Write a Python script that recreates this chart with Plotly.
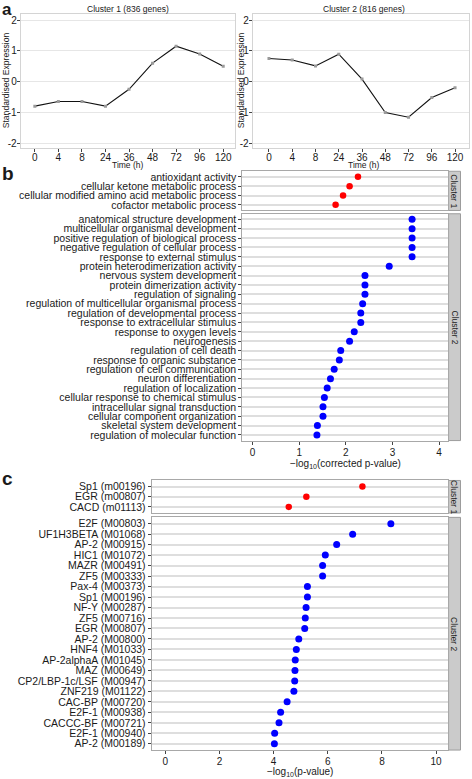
import plotly.graph_objects as go

# ---------------- data ----------------
time_labels = ["0", "4", "8", "24", "36", "48", "72", "96", "120"]
cluster1_expr = [-0.80, -0.65, -0.65, -0.80, -0.25, 0.60, 1.15, 0.90, 0.50]
cluster2_expr = [0.75, 0.70, 0.51, 0.89, 0.08, -1.01, -1.16, -0.52, -0.20]

go_c1_terms = ["antioxidant activity", "cellular ketone metabolic process",
               "cellular modified amino acid metabolic process", "cofactor metabolic process"]
go_c1_vals = [2.26, 2.08, 1.94, 1.78]

go_c2_terms = ["anatomical structure development", "multicellular organismal development",
               "positive regulation of biological process", "negative regulation of cellular process",
               "response to external stimulus", "protein heterodimerization activity",
               "nervous system development", "protein dimerization activity",
               "regulation of signaling", "regulation of multicellular organismal process",
               "regulation of developmental process", "response to extracellular stimulus",
               "response to oxygen levels", "neurogenesis", "regulation of cell death",
               "response to organic substance", "regulation of cell communication",
               "neuron differentiation", "regulation of localization",
               "cellular response to chemical stimulus", "intracellular signal transduction",
               "cellular component organization", "skeletal system development",
               "regulation of molecular function"]
go_c2_vals = [3.42, 3.42, 3.42, 3.42, 3.42, 2.93, 2.41, 2.41, 2.41, 2.36, 2.32, 2.32,
              2.18, 2.08, 1.89, 1.86, 1.75, 1.67, 1.60, 1.54, 1.51, 1.51, 1.39, 1.38]

tf_c1_names = ["Sp1 (m00196)", "EGR (m00807)", "CACD (m01113)"]
tf_c1_vals = [7.28, 5.21, 4.56]

tf_c2_names = ["E2F (M00803)", "UF1H3BETA (M01068)", "AP-2 (M00915)", "HIC1 (M01072)",
               "MAZR (M00491)", "ZF5 (M00333)", "Pax-4 (M00373)", "Sp1 (M00196)",
               "NF-Y (M00287)", "ZF5 (M00716)", "EGR (M00807)", "AP-2 (M00800)",
               "HNF4 (M01033)", "AP-2alphaA (M01045)", "MAZ (M00649)",
               "CP2/LBP-1c/LSF (M00947)", "ZNF219 (M01122)", "CAC-BP (M00720)",
               "E2F-1 (M00938)", "CACCC-BF (M00721)", "E2F-1 (M00940)", "AP-2 (M00189)"]
tf_c2_vals = [8.33, 6.92, 6.33, 5.91, 5.81, 5.81, 5.25, 5.25, 5.20, 5.17, 5.15, 4.93,
              4.84, 4.80, 4.79, 4.78, 4.75, 4.50, 4.26, 4.20, 4.04, 4.03]

# ---------------- layout helpers ----------------
W, H = 472, 779
def fx(p): return p / W
def fy(p): return 1 - p / H

FONT = "Liberation Sans, Arial, sans-serif"
TXT = "#1a1a1a"

fig = go.Figure()

# panel a
fig.add_trace(go.Scatter(x=time_labels, y=cluster1_expr, mode="lines+markers",
                         line=dict(color="#111111", width=1.1),
                         marker=dict(symbol="square", size=3, color="#9a9a9a"),
                         xaxis="x", yaxis="y", showlegend=False))
fig.add_trace(go.Scatter(x=time_labels, y=cluster2_expr, mode="lines+markers",
                         line=dict(color="#111111", width=1.1),
                         marker=dict(symbol="square", size=3, color="#9a9a9a"),
                         xaxis="x2", yaxis="y2", showlegend=False))

# panel b
fig.add_trace(go.Scatter(x=go_c1_vals, y=go_c1_terms, mode="markers",
                         marker=dict(color="#ff0000", size=6.5),
                         xaxis="x3", yaxis="y3", showlegend=False))
fig.add_trace(go.Scatter(x=go_c2_vals, y=go_c2_terms, mode="markers",
                         marker=dict(color="#0000ff", size=7),
                         xaxis="x4", yaxis="y4", showlegend=False))
# panel c
fig.add_trace(go.Scatter(x=tf_c1_vals, y=tf_c1_names, mode="markers",
                         marker=dict(color="#ff0000", size=6.5),
                         xaxis="x5", yaxis="y5", showlegend=False))
fig.add_trace(go.Scatter(x=tf_c2_vals, y=tf_c2_names, mode="markers",
                         marker=dict(color="#0000ff", size=7),
                         xaxis="x6", yaxis="y6", showlegend=False))

tickf = dict(family=FONT, size=10, color=TXT)
labf = dict(family=FONT, size=10.5, color=TXT)

def a_x(dom, rng, anchor):
    return dict(domain=dom, anchor=anchor, type="category", categoryorder="array",
                categoryarray=time_labels, tickmode="array", tickvals=time_labels,
                ticktext=time_labels, range=rng, showgrid=False, zeroline=False,
                showline=True, mirror=True, linecolor="#d4d4d4", linewidth=1,
                ticks="outside", ticklen=3, tickcolor="#444", tickfont=tickf,
                ticklabelstandoff=-3)

def a_y(dom, anchor):
    return dict(domain=dom, anchor=anchor, range=[-2.15, 2.2], tickmode="array",
                tickvals=[-2, -1, 0, 1, 2], ticktext=["-2", "-1", "0", "1", "2"],
                showgrid=True, gridcolor="#e6e6e6", gridwidth=1, zeroline=False,
                showline=True, mirror=True, linecolor="#d4d4d4", linewidth=1,
                ticks="outside", ticklen=3, tickcolor="#444", tickfont=tickf,
                ticklabelstandoff=-2)

def cat_y(dom, anchor, cats):
    n = len(cats)
    return dict(domain=dom, anchor=anchor, type="category", categoryorder="array",
                categoryarray=cats, tickmode="array", tickvals=cats, ticktext=cats,
                range=[n - 0.4, -0.6], showgrid=True,
                gridcolor="#dedede", gridwidth=1.6, zeroline=False, showline=True, mirror=True,
                linecolor="#a8a8a8", linewidth=1, ticks="outside", ticklen=3,
                tickcolor="#444", tickfont=labf)

def val_x(dom, anchor, rng, dtick, show):
    return dict(domain=dom, anchor=anchor, range=rng, tickmode="linear", dtick=dtick, tick0=0,
                showgrid=False, zeroline=False, showline=True, mirror=True,
                linecolor="#a8a8a8", linewidth=1,
                ticks="outside" if show else "", ticklen=3, tickcolor="#444",
                showticklabels=show, tickfont=tickf, ticklabelstandoff=-1)

ya_dom = [fy(147), fy(13)]
bx_dom = [fx(242.3), fx(448)]
cx_dom = [fx(151.7), fx(448)]

fig.update_layout(
    width=W, height=H, margin=dict(l=0, r=0, t=0, b=0),
    paper_bgcolor="white", plot_bgcolor="white",
    font=dict(family=FONT, color=TXT),
    xaxis=a_x([fx(20.7), fx(235)], [-0.6, 8.5], "y"),
    yaxis=a_y(ya_dom, "x"),
    xaxis2=a_x([fx(252.7), fx(469)], [-0.7, 8.6], "y2"),
    yaxis2=a_y(ya_dom, "x2"),
    xaxis3=val_x(bx_dom, "y3", [-0.22, 4.19], 1, False),
    yaxis3=cat_y([fy(210), fy(170.7)], "x3", go_c1_terms),
    xaxis4=val_x(bx_dom, "y4", [-0.22, 4.19], 1, True),
    yaxis4=cat_y([fy(440.7), fy(213.3)], "x4", go_c2_terms),
    xaxis5=val_x(cx_dom, "y5", [-0.5, 10.44], 2, False),
    yaxis5=cat_y([fy(513.3), fy(480.7)], "x5", tf_c1_names),
    xaxis6=val_x(cx_dom, "y6", [-0.5, 10.44], 2, True),
    yaxis6=cat_y([fy(751), fy(517.7)], "x6", tf_c2_names),
)

ann = []
def A(text, x, y, size, xanchor="center", yanchor="middle", **kw):
    d = dict(text=text, x=fx(x), y=fy(y), xref="paper", yref="paper", showarrow=False,
             xanchor=xanchor, yanchor=yanchor,
             font=dict(family=FONT, size=size, color=kw.pop("color", TXT)))
    d.update(kw)
    ann.append(d)

A("<b>a</b>", 0, -3, 17, xanchor="left", yanchor="top")
A("<b>b</b>", 0, 160, 19, xanchor="left", yanchor="top")
A("<b>c</b>", 0, 466, 19, xanchor="left", yanchor="top")

A("Cluster 1 (836 genes)", 127.8, 8, 8.5)
A("Cluster 2 (816 genes)", 363.5, 8, 8.5)
A("Standardised Expression", 5.5, 80, 8.6, textangle=-90)
A("Standardised Expression", 240.5, 80, 8.6, textangle=-90)
A("Time (h)", 127.8, 164, 8.5)
A("Time (h)", 363.5, 164, 8.5)

A("\u2212log<sub>10</sub>(corrected p-value)", 345, 464.5, 10)
A("\u2212log<sub>10</sub>(p-value)", 300, 772.5, 10)

shapes = []
def strip(y0, y1, label):
    shapes.append(dict(type="rect", xref="paper", yref="paper", x0=fx(448.6), x1=fx(460.5),
                       y0=fy(y1), y1=fy(y0), fillcolor="#cbcbcb",
                       line=dict(color="#9c9c9c", width=1), layer="below"))
    A(label, 454.6, (y0 + y1) / 2, 8.5, textangle=90, color="#222")

strip(170.7, 210, "Cluster 1")
strip(213.3, 440.7, "Cluster 2")
strip(480.7, 513.3, "Cluster 1")
strip(517.7, 751, "Cluster 2")

fig.update_layout(annotations=ann, shapes=shapes)
fig.write_html("out.html", config={"displayModeBar": False},
               post_script="document.body.style.margin='0';document.body.style.overflow='hidden';")
